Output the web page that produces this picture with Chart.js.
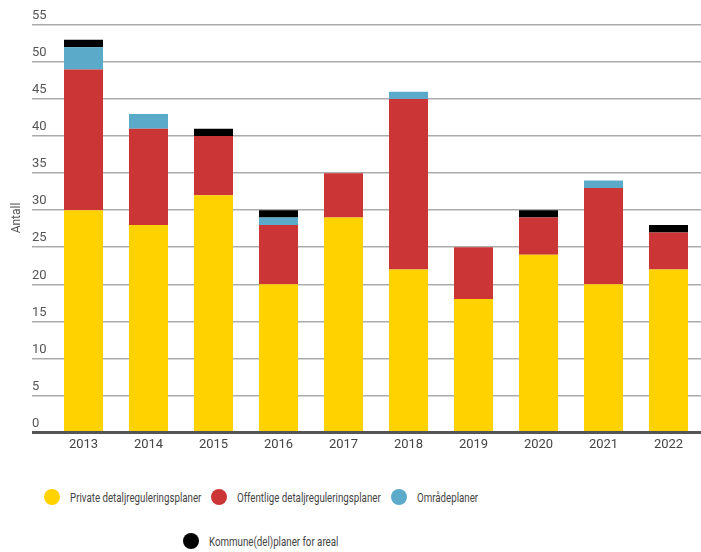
<!DOCTYPE html>
<html>
<head>
<meta charset="utf-8">
<script src="https://cdn.jsdelivr.net/npm/chart.js@4.4.1/dist/chart.umd.min.js"></script>
<style>
    body { margin: 0; background: #fff; }
    #wrap { position: relative; width: 701px; height: 458px; }
    #legenda {
        width: 522px;
        display: flex;
        flex-wrap: wrap;
        justify-content: center;
        margin-top: 31px;
        font-family: "Liberation Sans Narrow", Roboto, sans-serif;
        font-size: 13.5px;
        color: #444;
    }
    .item { display: flex; align-items: center; height: 16px; margin: 0 5px 28px 5px; }
    .bola { width: 16px; height: 16px; border-radius: 50%; margin-right: 10px; flex: none; }
    .txt { display: inline-block; white-space: nowrap; transform: scaleX(0.72); transform-origin: left center; }
</style>
</head>
<body>
<div id="wrap"><canvas id="chart1"></canvas></div>
<div id="legenda"></div>
<script>
const anos = ['2013', '2014', '2015', '2016', '2017', '2018', '2019', '2020', '2021', '2022'];
const privat = [30, 28, 32, 20, 29, 22, 18, 24, 20, 22];
const offentlig = [19, 13, 8, 8, 6, 23, 7, 5, 13, 5];
const omrade = [3, 2, 0, 1, 0, 1, 0, 0, 1, 0];
const kommune = [1, 0, 1, 1, 0, 0, 0, 1, 0, 1];
const y_ticks = [0, 5, 10, 15, 20, 25, 30, 35, 40, 45, 50, 55];

// titulo do eixo y
const tituloY = {
    id: 'tituloY',
    afterDraw(chart) {
        const ctx = chart.ctx;
        ctx.save();
        ctx.translate(17, 218);
        ctx.rotate(-Math.PI / 2);
        ctx.font = '12px Roboto';
        ctx.fillStyle = '#555';
        ctx.textAlign = 'center';
        ctx.textBaseline = 'middle';
        ctx.fillText('Antall', 0, 0);
        ctx.restore();
    }
};

const grafico = new Chart(document.getElementById('chart1'), {
    type: 'bar',
    data: {
        labels: anos,
        datasets: [
            { label: 'Private detaljreguleringsplaner', data: privat, backgroundColor: '#FFD200' },
            { label: 'Offentlige detaljreguleringsplaner', data: offentlig, backgroundColor: '#CC3535' },
            { label: 'Områdeplaner', data: omrade, backgroundColor: '#5CAACA' },
            { label: 'Kommune(del)planer for areal', data: kommune, backgroundColor: '#000000' }
        ]
    },
    options: {
        responsive: true,
        maintainAspectRatio: false,
        animation: false,
        categoryPercentage: 1,
        barPercentage: 0.6,
        layout: { padding: { left: 32, top: 25, right: 0, bottom: 0 } },
        plugins: {
            legend: { display: false },
            tooltip: { enabled: false }
        },
        scales: {
            x: {
                stacked: true,
                grid: { display: false, drawTicks: false },
                border: { display: false },
                ticks: {
                    color: '#444',
                    padding: 5,
                    font: { family: 'Roboto', size: 13 }
                }
            },
            y: {
                stacked: true,
                min: 0,
                max: 55,
                afterFit(scale) { scale.width = 19; },
                afterBuildTicks(scale) { scale.ticks = y_ticks.map(v => ({ value: v })); },
                border: { display: false },
                grid: {
                    tickLength: 19,
                    color: (c) => c.tick && c.tick.value === 0 ? '#555' : '#ababab',
                    lineWidth: (c) => c.tick && c.tick.value === 0 ? 3 : 1.5
                },
                ticks: {
                    crossAlign: 'far',
                    labelOffset: -9,
                    color: '#555',
                    font: { family: 'Roboto', size: 13 }
                }
            }
        }
    },
    plugins: [tituloY]
});

// legenda em html (texto estreitado p/ parecer condensado)
const legenda = document.getElementById('legenda');
grafico.data.datasets.forEach(function (ds) {
    const item = document.createElement('div');
    item.className = 'item';
    item.innerHTML = `<span class="bola" style="background:${ds.backgroundColor}"></span><span class="txt">${ds.label}</span>`;
    legenda.appendChild(item);
    const txt = item.querySelector('.txt');
    txt.style.marginRight = (-0.28 * txt.offsetWidth) + 'px';
});
</script>
</body>
</html>
